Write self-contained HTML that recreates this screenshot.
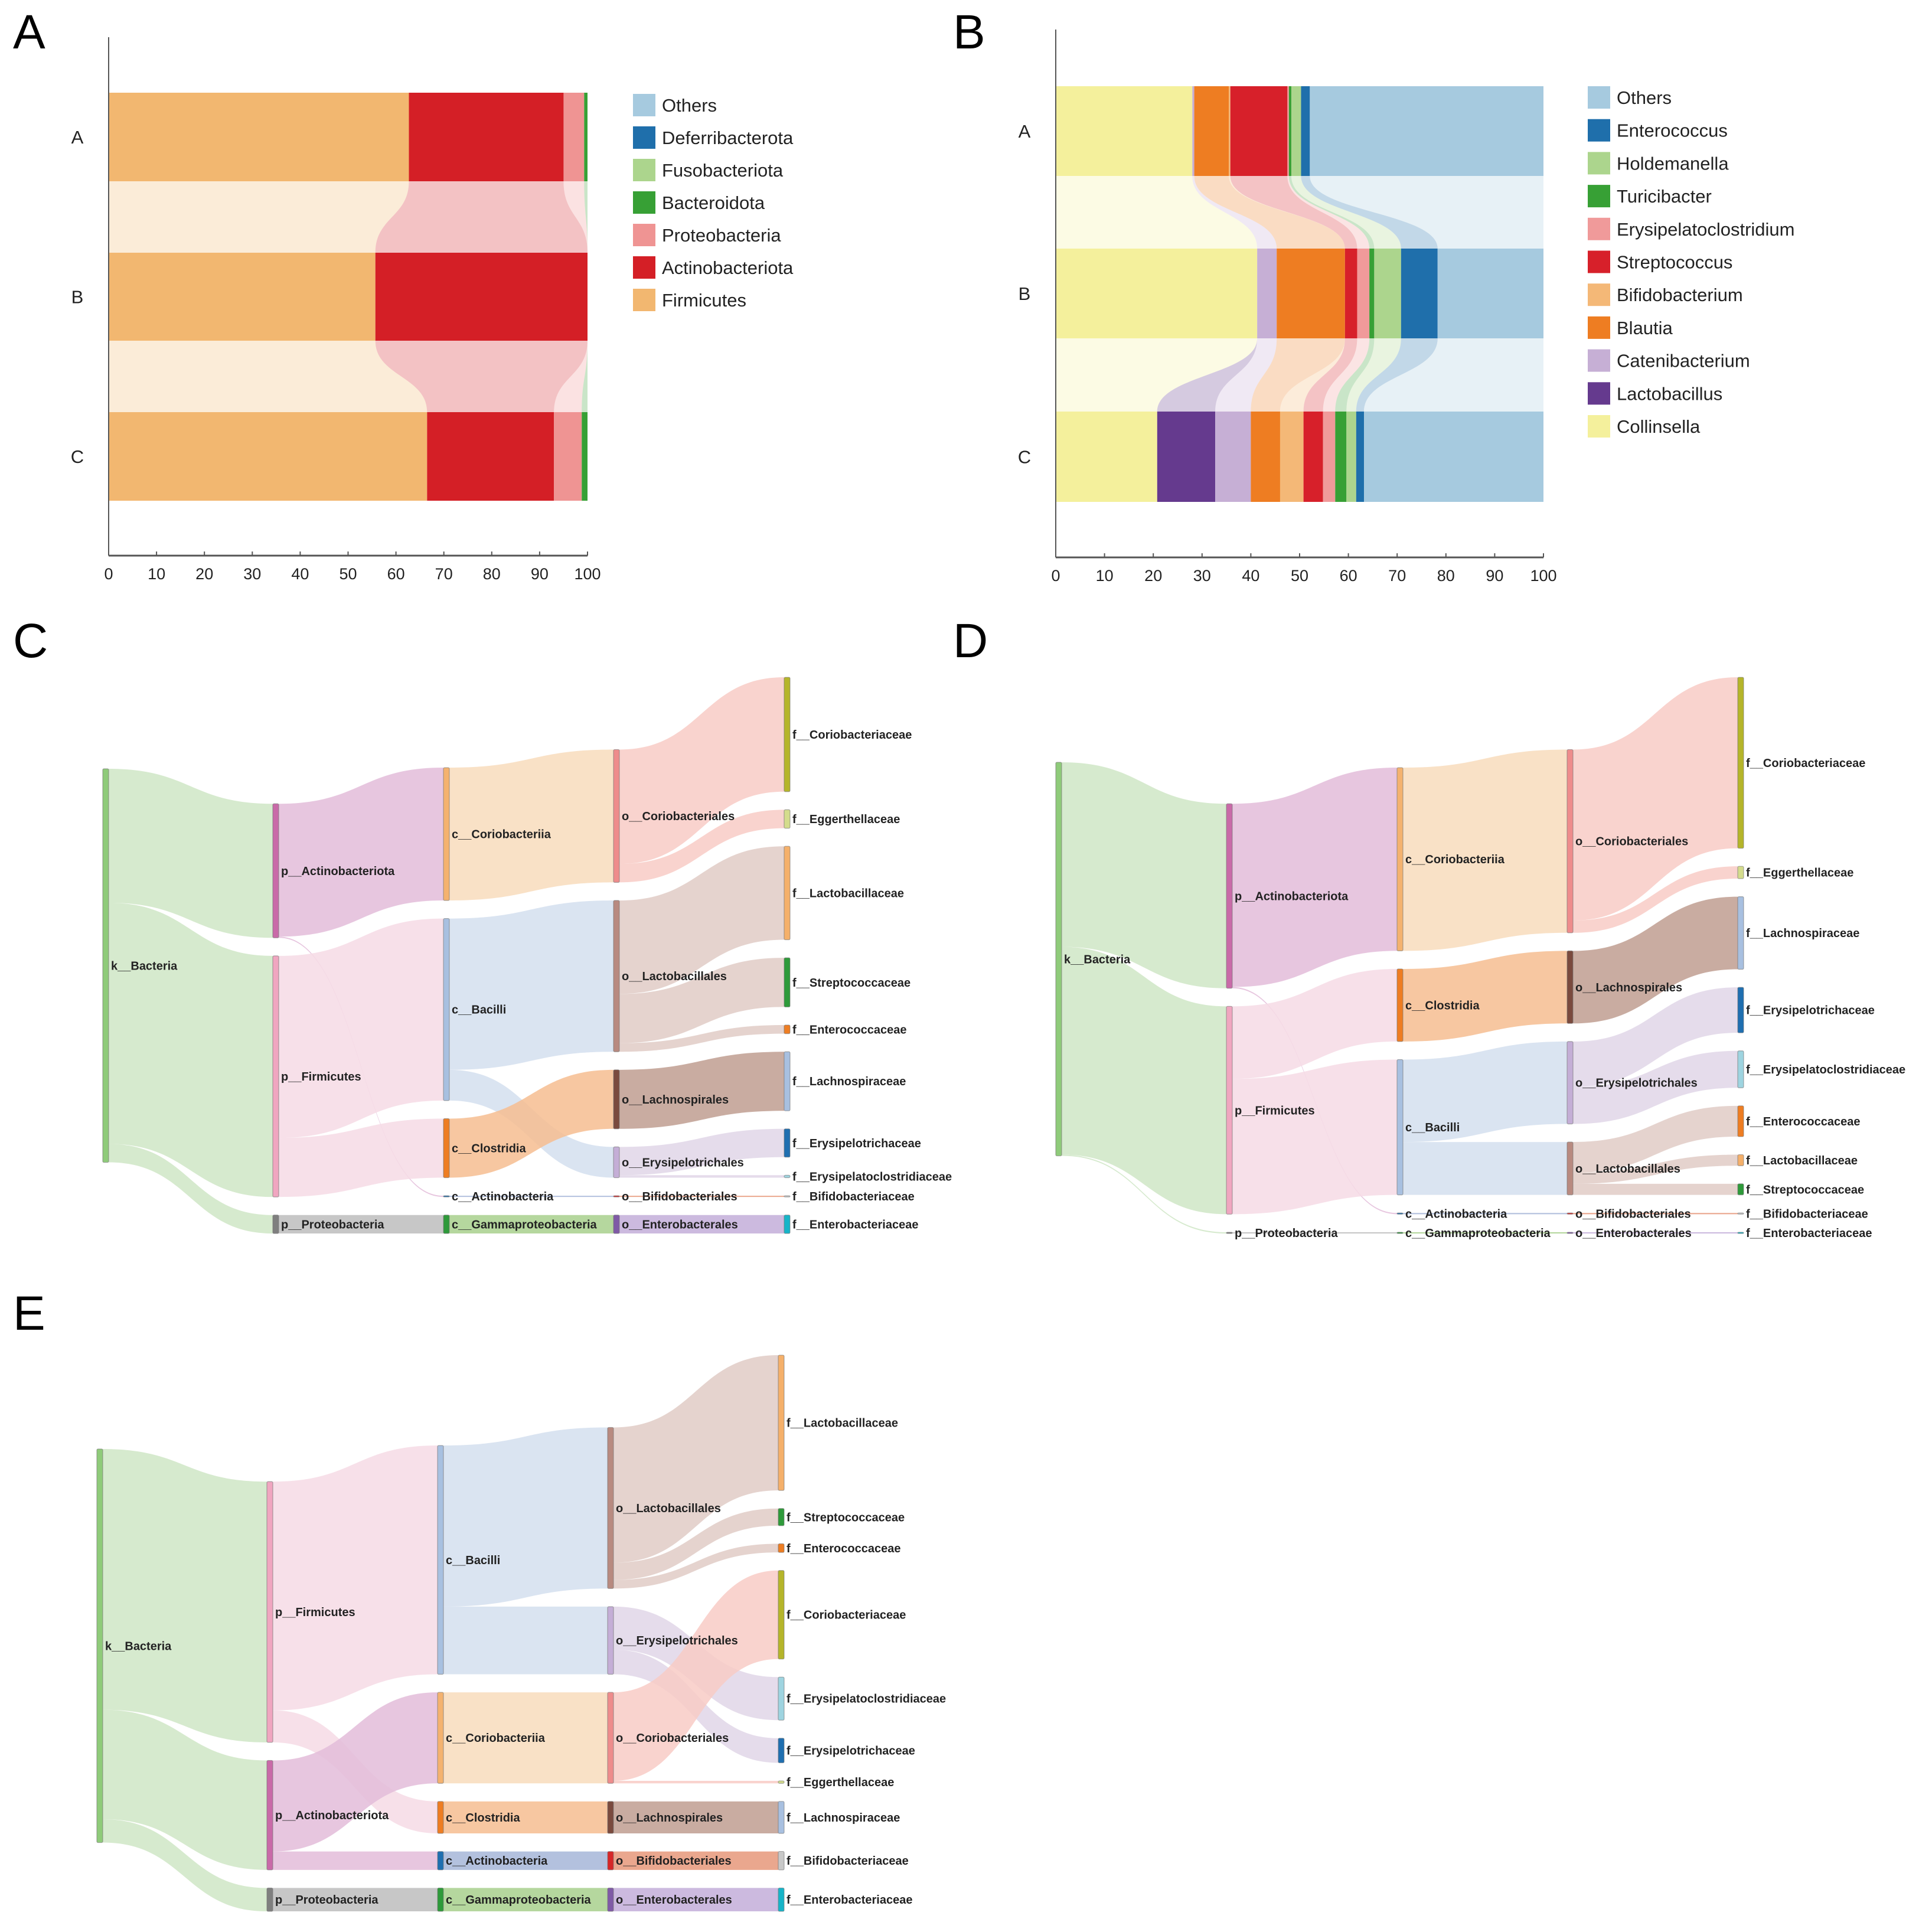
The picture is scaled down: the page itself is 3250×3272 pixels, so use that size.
<!DOCTYPE html>
<html><head><meta charset="utf-8">
<style>
html,body{margin:0;padding:0;background:#fff;}
svg{display:block;font-family:"Liberation Sans",sans-serif;}
.pl{font-size:82px;fill:#000;}
.tick{font-size:27px;fill:#222;}
.rowl{font-size:31px;fill:#222;}
.leg{font-size:31px;fill:#222;}
.nl{font-size:20px;font-weight:bold;fill:#222;}
</style></head>
<body>
<svg id="fig" xmlns="http://www.w3.org/2000/svg" width="3250" height="3272" viewBox="0 0 3250 3272">
<text class="pl" x="22" y="82">A</text>
<text class="pl" x="1614" y="82">B</text>
<text class="pl" x="22" y="1113">C</text>
<text class="pl" x="1614" y="1113">D</text>
<text class="pl" x="22" y="2252">E</text>
</svg>
<script>
// ---------- Panel A data ----------
const A_cats = ["Firmicutes","Actinobacteriota","Proteobacteria","Bacteroidota","Fusobacteriota","Deferribacterota","Others"];
const A_colors = ["#f2b770","#d41f26","#ef9493","#37a035","#acd58d","#1f6fab","#a6cadf"];
const A_samples = ["A","B","C"];
const A_valsA = [62.7,32.3,4.3,0.7,0,0,0];
const A_valsB = [55.7,44.3,0,0,0,0,0];
const A_valsC = [66.5,26.5,5.8,1.2,0,0,0];
// ---------- Panel B data ----------
const B_cats = ["Collinsella","Lactobacillus","Catenibacterium","Blautia","Bifidobacterium","Streptococcus","Erysipelatoclostridium","Turicibacter","Holdemanella","Enterococcus","Others"];
const B_colors = ["#f4f09c","#653a8e","#c6afd5","#ee7d22","#f4b877","#d7202a","#f09a9a","#37a035","#acd58d","#1f6fab","#a6cadf"];
const B_samples = ["A","B","C"];
const B_valsA = [28,0,0.4,7.1,0.3,11.7,0.3,0.5,2,1.8,47.9];
const B_valsB = [41.3,0,4,14,0,2.5,2.5,1,5.5,7.5,21.7];
const B_valsC = [20.8,11.9,7.3,6,4.8,4,2.5,2.3,2,1.6,36.8];
const xTicks = [0,10,20,30,40,50,60,70,80,90,100];

// ---------- Sankey data (shared node colors) ----------
const nodeColors = {
"k__Bacteria":"#8fcb7a","p__Actinobacteriota":"#c96aa8","p__Firmicutes":"#f0a6c0","p__Proteobacteria":"#7f7f7f",
"c__Coriobacteriia":"#f4b26f","c__Bacilli":"#a8c0e0","c__Clostridia":"#ee7d22","c__Actinobacteria":"#1f6fb0","c__Gammaproteobacteria":"#2e9a3a",
"o__Coriobacteriales":"#ee8c8c","o__Lactobacillales":"#b88a80","o__Lachnospirales":"#7a4a3e","o__Erysipelotrichales":"#c4aed6","o__Bifidobacteriales":"#d62728","o__Enterobacterales":"#7f5aa6",
"f__Coriobacteriaceae":"#b5b52a","f__Eggerthellaceae":"#d4dc8c","f__Lactobacillaceae":"#f5b06a","f__Streptococcaceae":"#2e9a3a","f__Enterococcaceae":"#ee7d22","f__Lachnospiraceae":"#a8c0e0","f__Erysipelotrichaceae":"#1f6fb0","f__Erysipelatoclostridiaceae":"#9ed4e0","f__Bifidobacteriaceae":"#c8c8c8","f__Enterobacteriaceae":"#17b4c8"};
const linkColors = {
"k__Bacteria":"#cfe6c6","p__Actinobacteriota":"#e3bcd9","p__Firmicutes":"#f6dbe5","p__Proteobacteria":"#bdbdbd",
"c__Coriobacteriia":"#f8dcbc","c__Bacilli":"#d3dfee","c__Clostridia":"#f6bd90","c__Actinobacteria":"#a6b6d8","c__Gammaproteobacteria":"#a8d08d",
"o__Coriobacteriales":"#f8cbc5","o__Lactobacillales":"#e0cbc5","o__Lachnospirales":"#bf9e90","o__Erysipelotrichales":"#e0d6e8","o__Bifidobacteriales":"#e6987a","o__Enterobacterales":"#c3aed9"};

const C_columns = [
 ["k__Bacteria"],
 ["p__Actinobacteriota","p__Firmicutes","p__Proteobacteria"],
 ["c__Coriobacteriia","c__Bacilli","c__Clostridia","c__Actinobacteria","c__Gammaproteobacteria"],
 ["o__Coriobacteriales","o__Lactobacillales","o__Lachnospirales","o__Erysipelotrichales","o__Bifidobacteriales","o__Enterobacterales"],
 ["f__Coriobacteriaceae","f__Eggerthellaceae","f__Lactobacillaceae","f__Streptococcaceae","f__Enterococcaceae","f__Lachnospiraceae","f__Erysipelotrichaceae","f__Erysipelatoclostridiaceae","f__Bifidobacteriaceae","f__Enterobacteriaceae"]];
const C_links = [
 ["k__Bacteria","p__Actinobacteriota",109],["k__Bacteria","p__Firmicutes",196],["k__Bacteria","p__Proteobacteria",15],
 ["p__Actinobacteriota","c__Coriobacteriia",108],["p__Actinobacteriota","c__Actinobacteria",1],
 ["p__Firmicutes","c__Bacilli",148],["p__Firmicutes","c__Clostridia",48],["p__Proteobacteria","c__Gammaproteobacteria",15],
 ["c__Coriobacteriia","o__Coriobacteriales",108],["c__Bacilli","o__Lactobacillales",123],["c__Bacilli","o__Erysipelotrichales",25],
 ["c__Clostridia","o__Lachnospirales",48],["c__Actinobacteria","o__Bifidobacteriales",1],["c__Gammaproteobacteria","o__Enterobacterales",15],
 ["o__Coriobacteriales","f__Coriobacteriaceae",93],["o__Coriobacteriales","f__Eggerthellaceae",15],
 ["o__Lactobacillales","f__Lactobacillaceae",76],["o__Lactobacillales","f__Streptococcaceae",40],["o__Lactobacillales","f__Enterococcaceae",7],
 ["o__Lachnospirales","f__Lachnospiraceae",48],["o__Erysipelotrichales","f__Erysipelotrichaceae",23],["o__Erysipelotrichales","f__Erysipelatoclostridiaceae",2],
 ["o__Bifidobacteriales","f__Bifidobacteriaceae",1],["o__Enterobacterales","f__Enterobacteriaceae",15]];

const D_columns = [
 ["k__Bacteria"],
 ["p__Actinobacteriota","p__Firmicutes","p__Proteobacteria"],
 ["c__Coriobacteriia","c__Clostridia","c__Bacilli","c__Actinobacteria","c__Gammaproteobacteria"],
 ["o__Coriobacteriales","o__Lachnospirales","o__Erysipelotrichales","o__Lactobacillales","o__Bifidobacteriales","o__Enterobacterales"],
 ["f__Coriobacteriaceae","f__Eggerthellaceae","f__Lachnospiraceae","f__Erysipelotrichaceae","f__Erysipelatoclostridiaceae","f__Enterococcaceae","f__Lactobacillaceae","f__Streptococcaceae","f__Bifidobacteriaceae","f__Enterobacteriaceae"]];
const D_links = [
 ["k__Bacteria","p__Actinobacteriota",150],["k__Bacteria","p__Firmicutes",169],["k__Bacteria","p__Proteobacteria",1],
 ["p__Actinobacteriota","c__Coriobacteriia",149],["p__Actinobacteriota","c__Actinobacteria",1],
 ["p__Firmicutes","c__Clostridia",59],["p__Firmicutes","c__Bacilli",110],["p__Proteobacteria","c__Gammaproteobacteria",1],
 ["c__Coriobacteriia","o__Coriobacteriales",149],["c__Clostridia","o__Lachnospirales",59],
 ["c__Bacilli","o__Erysipelotrichales",67],["c__Bacilli","o__Lactobacillales",43],
 ["c__Actinobacteria","o__Bifidobacteriales",1],["c__Gammaproteobacteria","o__Enterobacterales",1],
 ["o__Coriobacteriales","f__Coriobacteriaceae",139],["o__Coriobacteriales","f__Eggerthellaceae",10],
 ["o__Lachnospirales","f__Lachnospiraceae",59],["o__Erysipelotrichales","f__Erysipelotrichaceae",37],["o__Erysipelotrichales","f__Erysipelatoclostridiaceae",30],
 ["o__Lactobacillales","f__Enterococcaceae",25],["o__Lactobacillales","f__Lactobacillaceae",9],["o__Lactobacillales","f__Streptococcaceae",9],
 ["o__Bifidobacteriales","f__Bifidobacteriaceae",1],["o__Enterobacterales","f__Enterobacteriaceae",1]];

const E_columns = [
 ["k__Bacteria"],
 ["p__Firmicutes","p__Actinobacteriota","p__Proteobacteria"],
 ["c__Bacilli","c__Coriobacteriia","c__Clostridia","c__Actinobacteria","c__Gammaproteobacteria"],
 ["o__Lactobacillales","o__Erysipelotrichales","o__Coriobacteriales","o__Lachnospirales","o__Bifidobacteriales","o__Enterobacterales"],
 ["f__Lactobacillaceae","f__Streptococcaceae","f__Enterococcaceae","f__Coriobacteriaceae","f__Erysipelatoclostridiaceae","f__Erysipelotrichaceae","f__Eggerthellaceae","f__Lachnospiraceae","f__Bifidobacteriaceae","f__Enterobacteriaceae"]];
const E_links = [
 ["k__Bacteria","p__Firmicutes",212],["k__Bacteria","p__Actinobacteriota",89],["k__Bacteria","p__Proteobacteria",19],
 ["p__Firmicutes","c__Bacilli",186],["p__Firmicutes","c__Clostridia",26],
 ["p__Actinobacteriota","c__Coriobacteriia",74],["p__Actinobacteriota","c__Actinobacteria",15],["p__Proteobacteria","c__Gammaproteobacteria",19],
 ["c__Bacilli","o__Lactobacillales",131],["c__Bacilli","o__Erysipelotrichales",55],["c__Coriobacteriia","o__Coriobacteriales",74],
 ["c__Clostridia","o__Lachnospirales",26],["c__Actinobacteria","o__Bifidobacteriales",15],["c__Gammaproteobacteria","o__Enterobacterales",19],
 ["o__Lactobacillales","f__Lactobacillaceae",110],["o__Lactobacillales","f__Streptococcaceae",14],["o__Lactobacillales","f__Enterococcaceae",7],
 ["o__Erysipelotrichales","f__Erysipelatoclostridiaceae",35],["o__Erysipelotrichales","f__Erysipelotrichaceae",20],
 ["o__Coriobacteriales","f__Coriobacteriaceae",72],["o__Coriobacteriales","f__Eggerthellaceae",2],
 ["o__Lachnospirales","f__Lachnospiraceae",26],["o__Bifidobacteriales","f__Bifidobacteriaceae",15],["o__Enterobacterales","f__Enterobacteriaceae",19]];

const NS = "http://www.w3.org/2000/svg";
const svg = document.getElementById("fig");
function mk(tag, attrs, parent){
  const e = document.createElementNS(NS, tag);
  for (const k in attrs) e.setAttribute(k, attrs[k]);
  (parent||svg).appendChild(e);
  return e;
}

// ---------- Stacked bar with flows ----------
function barChart(p){
  const g = mk("g", {});
  
  
  const xs = v => p.x0 + (p.x1 - p.x0) * v / 100;
  const samples = p.vals.map(arr => { let c = 0; return arr.map(v => { const a = c; c += v; return [a, c]; }); });
  for (let s = 0; s < samples.length - 1; s++){
    const yb = p.bars[s][1], yt = p.bars[s+1][0], ym = (yb + yt) / 2;
    p.cats.forEach((cat, i) => {
      const a = samples[s][i], b = samples[s+1][i];
      if (a[1]-a[0] <= 0 && b[1]-b[0] <= 0) return;
      const l0 = xs(a[0]), r0 = xs(a[1]), l1 = xs(b[0]), r1 = xs(b[1]);
      const d = `M${l0},${yb} L${r0},${yb} C${r0},${ym} ${r1},${ym} ${r1},${yt} L${l1},${yt} C${l1},${ym} ${l0},${ym} ${l0},${yb} Z`;
      const f = mk("path", {d: d, fill: p.colors[i], "fill-opacity": 0.27}, g);
      
      
    });
  }
  samples.forEach((seg, s) => {
    p.cats.forEach((cat, i) => {
      const w = xs(seg[i][1]) - xs(seg[i][0]);
      if (w <= 0) return;
      const r = mk("rect", {x: xs(seg[i][0]), y: p.bars[s][0], width: w, height: p.bars[s][1]-p.bars[s][0], fill: p.colors[i]}, g);
      
      
    });
    const t = mk("text", {x: p.rowX, y: (p.bars[s][0]+p.bars[s][1])/2 + 11, "text-anchor": "middle", class: "rowl"}, g);
    t.textContent = p.samples[s];
    
    
  });
  const ya = mk("line", {x1: p.x0, y1: p.yTop, x2: p.x0, y2: p.axisY, stroke: "#555", "stroke-width": 2}, g);
  
  
  const xa = mk("line", {x1: p.x0, y1: p.axisY, x2: p.x1, y2: p.axisY, stroke: "#555", "stroke-width": 3}, g);
  
  
  xTicks.forEach(v => {
    const tk = mk("line", {x1: xs(v), y1: p.axisY, x2: xs(v), y2: p.axisY - 7, stroke: "#555", "stroke-width": 2}, g);
    
    
    const t = mk("text", {x: xs(v), y: p.axisY + 40, "text-anchor": "middle", class: "tick"}, g);
    t.textContent = v;
    
    
  });
  const n = p.cats.length;
  for (let k = 0; k < n; k++){
    const i = n - 1 - k;
    const cy = p.legY + k * p.legStep;
    const sw = mk("rect", {x: p.legX, y: cy - 19, width: 38, height: 38, fill: p.colors[i]}, g);
    
    
    const t = mk("text", {x: p.legX + 49, y: cy + 11, class: "leg"}, g);
    t.textContent = p.cats[i];
    
    
  }
}
barChart({name: "phylum-bar-chart", cats: A_cats, colors: A_colors, samples: A_samples, vals: [A_valsA, A_valsB, A_valsC],
  x0: 184, x1: 995, bars: [[157,307],[428,577],[698,848]], axisY: 941, yTop: 63, rowX: 131, legX: 1072, legY: 178, legStep: 55});
barChart({name: "genus-bar-chart", cats: B_cats, colors: B_colors, samples: B_samples, vals: [B_valsA, B_valsB, B_valsC],
  x0: 1788, x1: 2614, bars: [[146,298],[421,573],[697,850]], axisY: 944, yTop: 50, rowX: 1735, legX: 2689, legY: 165, legStep: 55.7});

// ---------- Sankey ----------
function sankey(p){
  const g = mk("g", {});
  
  
  const S = 2.083, G = 30.6, W = 10;
  const nodes = {};
  p.columns.forEach((col, ci) => col.forEach((nm, oi) => { nodes[nm] = {name: nm, col: ci, order: oi, vin: 0, vout: 0}; }));
  p.links.forEach(l => { nodes[l[0]].vout += l[2]; nodes[l[1]].vin += l[2]; });
  Object.values(nodes).forEach(n => { n.v = Math.max(n.vin, n.vout); n.h = Math.max(n.v * S, 2); });
  p.columns.forEach((col, ci) => {
    const x = p.colX[ci];
    if (ci === 0){
      let y = p.kTop;
      col.forEach(nm => { const n = nodes[nm]; n.x = x; n.y0 = y; n.y1 = y + n.h; y = n.y1 + G; });
    } else {
      let y = p.bottom;
      for (let i = col.length - 1; i >= 0; i--){ const n = nodes[col[i]]; n.x = x; n.y1 = y; n.y0 = y - n.h; y = n.y0 - G; }
    }
  });
  const L = p.links.map(l => ({s: nodes[l[0]], t: nodes[l[1]], v: l[2]}));
  Object.values(nodes).forEach(n => {
    const outs = L.filter(l => l.s === n).sort((a, b) => a.t.y0 - b.t.y0);
    let o = n.y0; const so = n.h / Math.max(n.vout, 1e-9);
    outs.forEach(l => { l.sy0 = o; o += l.v * (n.vout ? so : 0); l.sy1 = o; });
    const ins = L.filter(l => l.t === n).sort((a, b) => a.s.y0 - b.s.y0);
    let q = n.y0; const si = n.h / Math.max(n.vin, 1e-9);
    ins.forEach(l => { l.ty0 = q; q += l.v * (n.vin ? si : 0); l.ty1 = q; });
  });
  L.forEach(l => {
    const x0 = l.s.x + W, x1 = l.t.x, xm = (x0 + x1) / 2;
    const d = `M${x0},${l.sy0} C${xm},${l.sy0} ${xm},${l.ty0} ${x1},${l.ty0} L${x1},${l.ty1} C${xm},${l.ty1} ${xm},${l.sy1} ${x0},${l.sy1} Z`;
    const e = mk("path", {d: d, fill: linkColors[l.s.name] || "#ddd", "fill-opacity": 0.85}, g);
    
    
  });
  Object.values(nodes).forEach(n => {
    const r = mk("rect", {x: n.x, y: n.y0, width: W, height: n.h, rx: 2, fill: nodeColors[n.name], stroke: "#777", "stroke-width": 1.2, "stroke-opacity": 0.6}, g);
    
    
    const t = mk("text", {x: n.x + W + 4, y: (n.y0 + n.y1) / 2 + 7, class: "nl"}, g);
    t.textContent = n.name;
    
    
  });
}
sankey({name: "sankey-c", columns: C_columns, links: C_links, colX: [174, 462, 751, 1039, 1328], kTop: 1302, bottom: 2089});
sankey({name: "sankey-d", columns: D_columns, links: D_links, colX: [1788, 2077, 2366, 2654, 2943], kTop: 1291, bottom: 2089});
sankey({name: "sankey-e", columns: E_columns, links: E_links, colX: [164, 452, 741, 1029, 1318], kTop: 2454, bottom: 3237});
</script>
</body></html>
